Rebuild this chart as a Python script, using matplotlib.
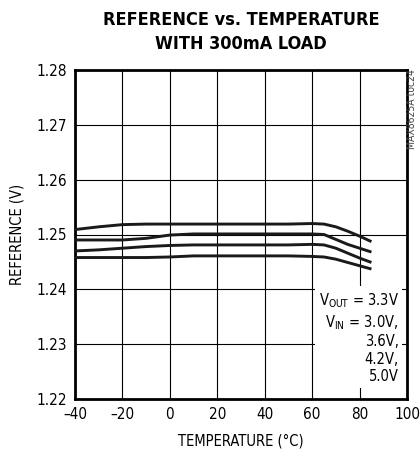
import matplotlib
matplotlib.use("Agg")
import matplotlib.pyplot as plt

plt.rcParams['font.family'] = ['DejaVu Sans']
plt.rcParams['font.stretch'] = 'condensed'
plt.rcParams['mathtext.default'] = 'regular'

temps = [-40, -30, -20, -10, 0, 10, 20, 30, 40, 50, 60, 65, 70, 75, 80, 85]
ref_a = [1.2509, 1.2514, 1.2518, 1.2519, 1.2519, 1.2519, 1.2519, 1.2519, 1.2519, 1.2519, 1.2520, 1.2519, 1.2514, 1.2506, 1.2497, 1.2487]
ref_b = [1.2490, 1.2490, 1.2490, 1.2493, 1.2499, 1.2501, 1.2501, 1.2501, 1.2501, 1.2501, 1.2501, 1.2500, 1.2491, 1.2482, 1.2475, 1.2468]
ref_c = [1.2470, 1.2472, 1.2475, 1.2478, 1.2480, 1.2481, 1.2481, 1.2481, 1.2481, 1.2481, 1.2482, 1.2481, 1.2475, 1.2466, 1.2457, 1.2449]
ref_d = [1.2458, 1.2458, 1.2458, 1.2458, 1.2459, 1.2461, 1.2461, 1.2461, 1.2461, 1.2461, 1.2460, 1.2459, 1.2455, 1.2449, 1.2443, 1.2437]
series = [ref_a, ref_b, ref_c, ref_d]

xticks = [-40, -20, 0, 20, 40, 60, 80, 100]
yticks = [1.22, 1.23, 1.24, 1.25, 1.26, 1.27, 1.28]

fig = plt.figure(figsize=(4.20, 4.59), dpi=100)
ax = fig.add_axes([75/420, 1-399/459, 332/420, 329/459])

for s in series:
    ax.plot(temps, s, color='#1a1a1a', lw=2.1, solid_capstyle='butt', zorder=3)

ax.set_xlim(-40, 100)
ax.set_ylim(1.22, 1.28)
ax.set_xticks(xticks)
ax.set_yticks(yticks)
ax.set_xticklabels([str(t).replace('-', '\u2013') for t in xticks], fontsize=11)
ax.set_yticklabels([f"{v:.2f}" for v in yticks], fontsize=11)
ax.tick_params(length=0, pad=6)
ax.grid(True, color='black', lw=0.8)
for sp in ax.spines.values():
    sp.set_linewidth(2.0)

ax.set_xlabel('TEMPERATURE (°C)', fontsize=10.5, labelpad=8)
ax.set_ylabel('REFERENCE (V)', fontsize=10.5, labelpad=8)

fig.text(241/420, 1-20/459, 'REFERENCE vs. TEMPERATURE', ha='center', va='center',
         fontsize=13, fontweight='heavy')
fig.text(241/420, 1-44/459, 'WITH 300mA LOAD', ha='center', va='center',
         fontsize=13, fontweight='heavy')

fig.text(412/420, 1-69/459, 'MAX8625A toc24', rotation=90, ha='center', va='top',
         fontsize=7.5, color='#444444')

ax.text(0.975, 0.045,
        'V$_{OUT}$ = 3.3V\nV$_{IN}$ = 3.0V,\n3.6V,\n4.2V,\n5.0V',
        transform=ax.transAxes, ha='right', va='bottom', multialignment='right',
        fontsize=10.5, linespacing=1.2, zorder=4,
        bbox=dict(boxstyle='square,pad=0.25', fc='white', ec='none'))

fig.savefig('out.png', dpi=100)
